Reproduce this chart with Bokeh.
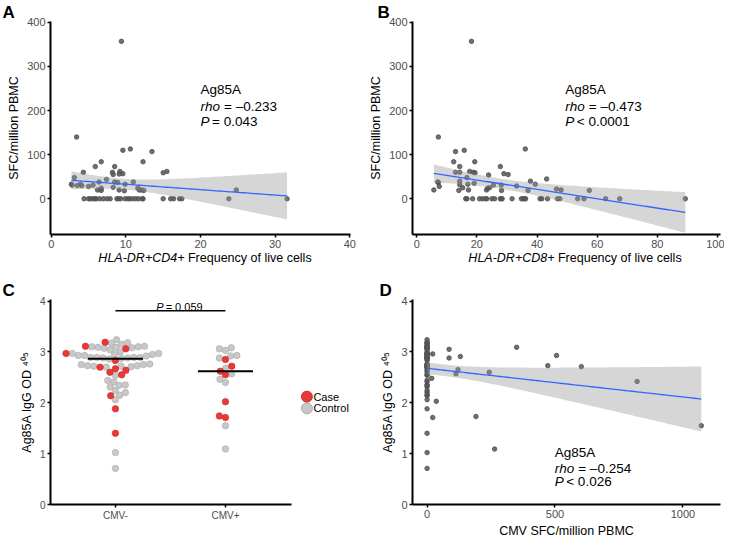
import numpy as np
from bokeh.plotting import figure
from bokeh.models import Label, FixedTicker, ColumnDataSource, Range1d, Div
from bokeh.layouts import column, row
from bokeh.embed import file_html
from bokeh.resources import INLINE

FONT = "Liberation Sans"
PT_COLOR = "#555555"
LINE_BLUE = "#3366FF"
RED = "#E8393A"
RED_EDGE = "#D02A2A"
GRAY = "#C8C8C8"
GRAY_EDGE = "#A9A9A9"

# ---------------- Panel A : HLA-DR+CD4+ vs SFC ----------------
a_freq = [9.4, 3.4, 9.6, 10.6, 13.5, 5.9, 6.7, 8.5, 12.3, 4.3, 8.2, 8.3, 9.2, 9.1, 9.6,
          15.0, 15.5, 3.1, 7.4, 8.5, 8.9, 11.0, 9.9, 6.4, 2.8, 2.7, 3.5, 3.9, 4.1, 5.0,
          5.6, 8.3, 6.2, 6.7, 6.7, 9.1, 9.8, 11.6, 11.8, 12.1, 12.4, 24.8,
          4.4, 5.0, 5.25, 5.6, 5.9, 6.0, 6.5, 7.0, 7.5, 7.9, 8.8, 9.0, 9.3, 9.9, 10.25,
          10.5, 10.9, 11.3, 11.7, 12.2, 12.3, 15.0, 16.0, 16.4, 17.2, 17.5, 23.8, 31.6]
a_sfc = [357, 140, 110, 113, 107, 73, 84, 73, 84, 60, 60, 55, 62, 56, 57,
         59, 62, 48, 44, 38, 37, 38, 33, 38, 31, 33, 30, 33, 30, 28,
         31, 26, 20, 19, 24, 20, 18, 24, 20, 20, 19, 20,
         0, 0, 0, 0, 0, 0, 0, 0, 0, 0, 0, 0, 0, 0, 0,
         0, 0, 0, 0, 0, 0, 0, 0, 0, 0, 0, 0, 0]

# ---------------- Panel B : HLA-DR+CD8+ vs SFC ----------------
b_freq = [18.2, 7.2, 12.9, 15.8, 36.1, 12.3, 19.3, 14.3, 27.8, 12.9, 14.3, 18.8, 19.4,
          17.6, 23.9, 29.0, 30.4, 43.2, 7.2, 7.5, 14.3, 16.7, 14.3, 14.0, 15.3, 17.2,
          19.1, 17.0, 23.2, 23.6, 24.2, 25.5, 28.1, 28.2, 33.2, 37.8, 37.0, 39.4, 46.5,
          48.0, 57.4, 5.7, 7.0,
          16.3, 16.7, 18.6, 20.9, 21.9, 22.8, 23.3, 25.0, 25.9, 27.8, 28.1, 28.4, 31.7,
          34.8, 35.4, 35.9, 36.2, 41.0, 41.6, 43.5, 46.8, 47.6, 53.5, 55.6, 62.8, 67.5, 89.3]
b_sfc = [357, 140, 107, 110, 113, 84, 84, 73, 73, 60, 60, 60, 59,
         62, 54, 57, 55, 45, 37, 28, 40, 48, 32, 19, 25, 20,
         35, 33, 20, 24, 25, 31, 31, 19, 29, 40, 19, 33, 22,
         20, 19, 20, 38,
         0, 0, 0, 0, 0, 0, 0, 0, 0, 0, 0, 0, 0,
         0, 0, 0, 0, 0, 0, 0, 0, 0, 0, 0, 0, 0, 0]

# ---------------- Panel C : Ag85A IgG by CMV status ----------------
categories = ["CMV-", "CMV+"]
groups = ["Case", "Control"]
cmvneg_control = [3.24, 3.18, 3.17, 3.15,
                  3.10, 3.09, 3.07, 3.04, 3.00, 2.97, 2.95, 2.93, 2.92, 2.93, 2.95, 2.97,
                  3.08, 3.09, 3.10, 3.11,
                  2.89, 2.89, 2.88, 2.86, 2.87, 2.88, 2.89, 2.89,
                  2.75, 2.73, 2.72, 2.71, 2.70, 2.72, 2.73, 2.75, 2.76,
                  2.54, 2.44, 2.41, 2.35, 2.34, 2.31, 2.24, 2.20, 2.15, 2.06, 1.02, 0.71]
cmvneg_case = [3.19, 3.11, 3.06, 2.97, 2.83, 2.70, 2.67, 2.64, 2.60, 2.55, 2.14, 1.88, 1.40]
cmvpos_control = [3.08, 3.03, 3.06, 2.92, 2.93, 2.88, 2.68, 2.57, 2.46, 2.40, 1.55, 1.09]
cmvpos_case = [2.85, 2.72, 2.62, 2.55, 2.02, 1.74, 1.71]
c_pvalue = "= 0.059"

# ---------------- Panel D : CMV SFC vs Ag85A IgG ----------------
d_sfc_pos = [22, 18, 36, 22, 86, 86, 130, 121, 113, 191, 243, 264, 350, 472, 506, 603, 821, 1072]
d_igg_pos = [2.96, 2.48, 2.03, 1.71, 3.05, 2.88, 2.91, 2.65, 2.57, 1.73, 2.60, 1.09, 3.09,
             2.73, 2.93, 2.71, 2.42, 1.55]
d_igg_zero = cmvneg_control + cmvneg_case
d_sfc = [0] * len(d_igg_zero) + d_sfc_pos
d_igg = d_igg_zero + d_igg_pos


def smooth(x, y, n=80, t=1.99):
    x = np.asarray(x, float)
    y = np.asarray(y, float)
    b, a = np.polyfit(x, y, 1)
    xs = np.linspace(x.min(), x.max(), n)
    fit = a + b * xs
    resid = y - (a + b * x)
    s = np.sqrt(np.sum(resid ** 2) / (len(x) - 2))
    sxx = np.sum((x - x.mean()) ** 2)
    se = s * np.sqrt(1.0 / len(x) + (xs - x.mean()) ** 2 / sxx)
    return xs, fit, fit - t * se, fit + t * se


def style_axes(p, tick_size="11px"):
    p.grid.visible = False
    p.outline_line_color = None
    for ax in (p.xaxis[0], p.yaxis[0]):
        ax.axis_line_width = 2
        ax.axis_line_color = "black"
        ax.major_tick_line_width = 1.5
        ax.major_tick_line_color = "black"
        ax.major_tick_out = 3
        ax.major_tick_in = 0
        ax.minor_tick_line_color = None
        ax.major_label_standoff = 2
        ax.major_label_text_font = FONT
        ax.major_label_text_font_size = tick_size
        ax.major_label_text_color = "#4d4d4d"
        ax.axis_label_text_font = FONT
        ax.axis_label_text_font_size = "12.5px"
        ax.axis_label_text_font_style = "normal"
        ax.axis_label_text_color = "black"
        ax.axis_label_standoff = 3


def make_fig(w, h, xr, yr, left, right, bottom, letter, letter_offset):
    p = figure(width=w, height=h, x_range=Range1d(*xr), y_range=Range1d(*yr),
               output_backend="svg", toolbar_location=None, title=letter,
               min_border_left=left, min_border_right=right,
               min_border_top=0, min_border_bottom=bottom)
    p.title.text_font = FONT
    p.title.text_font_size = "17px"
    p.title.text_font_style = "bold"
    p.title.text_color = "black"
    p.title.text_line_height = 0.9
    p.title.align = "left"
    p.title.offset = letter_offset
    p.title.standoff = 0
    return p


def scatter_fit(p, x, y):
    p.scatter(x, y, size=4.5, fill_color=PT_COLOR, line_color=PT_COLOR, fill_alpha=0.85, line_alpha=0.85)
    xs, fit, lo, hi = smooth(x, y)
    p.varea(x=xs, y1=lo, y2=hi, fill_color="#999999", fill_alpha=0.4)
    p.line(xs, fit, line_color=LINE_BLUE, line_width=1.3)


def stat_text(p, x, ys, rho, pstr, size="13.5px"):
    common = dict(text_font=FONT, text_font_size=size, text_baseline="middle", text_color="black")
    p.add_layout(Label(x=x, y=ys[0], text="Ag85A", **common))
    p.add_layout(Label(x=x, y=ys[1], text="rho", text_font_style="italic", **common))
    p.add_layout(Label(x=x, y=ys[1], x_offset=23.5, text=rho, **common))
    p.add_layout(Label(x=x, y=ys[2], text="P", text_font_style="italic", **common))
    p.add_layout(Label(x=x, y=ys[2], x_offset=11.5, text=pstr, **common))


def xlabel_div(ital, rest, left, frame_w, shift):
    html = ('<div style="position:relative;top:-8px;margin-left:%dpx;width:%dpx;'
            'text-align:center;white-space:nowrap;">'
            '<span style="font-style:italic">%s</span> %s</div>' % (left + shift, frame_w, ital, rest))
    return Div(text=html, width=362, height=14,
               styles={"font-family": FONT, "font-size": "12.5px", "line-height": "15px",
                       "color": "black", "overflow": "visible", "z-index": "5"})


# ---------- A ----------
pA = make_fig(362, 254, (-0.1, 40.1), (-81, 402), 50, 12, 20, "A", -48)
style_axes(pA)
scatter_fit(pA, a_freq, a_sfc)
pA.xaxis.ticker = FixedTicker(ticks=[0, 10, 20, 30, 40])
pA.yaxis.ticker = FixedTicker(ticks=[0, 100, 200, 300, 400])
pA.yaxis.axis_label = "SFC/million PBMC"
stat_text(pA, 20.0, [248, 209, 175], "= \u20130.233", "= 0.043")
divA = xlabel_div("HLA-DR+CD4+", "Frequency of live cells", 50, 300, 0)

# ---------- B ----------
pB = make_fig(362, 254, (-1.4, 101), (-81, 402), 50, 4, 20, "B", -35)
style_axes(pB)
scatter_fit(pB, b_freq, b_sfc)
pB.xaxis.ticker = FixedTicker(ticks=[0, 20, 40, 60, 80, 100])
pB.yaxis.ticker = FixedTicker(ticks=[0, 100, 200, 300, 400])
pB.yaxis.axis_label = "SFC/million PBMC"
stat_text(pB, 49.4, [248, 209, 175], "= \u20130.473", "< 0.0001")
divB = xlabel_div("HLA-DR+CD8+", "Frequency of live cells", 50, 308, -6)


# ---------- C ----------
def swarm(vals, px_x=110.0, px_y=52.0, d=6.3):
    vals = np.asarray(vals, float)
    order = np.argsort(vals, kind="stable")
    placed = []
    offs = np.zeros(len(vals))
    for i in order:
        yp = vals[i] * px_y
        cands = [0.0]
        for xo, yo in placed:
            dy = abs(yp - yo)
            if dy < d:
                dx = np.sqrt(d * d - dy * dy)
                cands += [xo + dx, xo - dx]
        cands.sort(key=lambda c: (abs(c), c))
        for c in cands:
            if all((c - xo) ** 2 + (yp - yo) ** 2 >= d * d - 1e-6 for xo, yo in placed):
                offs[i] = c
                break
        placed.append((offs[i], yp))
    return offs / px_x


pC = make_fig(362, 262, (0.41, 3.2), (0, 4.03), 50, 5, 22, "C", -48)
style_axes(pC, tick_size="10px")
pC.xaxis.bounds = (0.41, 2.6)
xs_all, ys_all, fc_all, lc_all = [], [], [], []
medians = []
for k, (ctrl, case) in enumerate([(cmvneg_control, cmvneg_case), (cmvpos_control, cmvpos_case)]):
    vals = list(ctrl) + list(case)
    is_case = [False] * len(ctrl) + [True] * len(case)
    offs = swarm(vals)
    for v, o, c in zip(vals, offs, is_case):
        xs_all.append(k + 1 + o)
        ys_all.append(v)
        fc_all.append(RED if c else GRAY)
        lc_all.append(RED_EDGE if c else GRAY_EDGE)
    medians.append(float(np.median(vals)))
srcC = ColumnDataSource(dict(x=xs_all, y=ys_all, fc=fc_all, lc=lc_all))
pC.scatter("x", "y", source=srcC, size=6.5, fill_color="fc", line_color="lc", line_width=0.6)
pos = [1, 2]
pC.segment(x0=[p - 0.25 for p in pos], x1=[p + 0.25 for p in pos], y0=medians, y1=medians,
           line_color="black", line_width=2)
pC.segment(x0=[1], x1=[2], y0=[3.81], y1=[3.81], line_color="black", line_width=1.5)
cC = dict(text_font=FONT, text_font_size="11px", text_baseline="alphabetic", text_color="black")
pC.add_layout(Label(x=1.37, y=3.88, text="P", text_font_style="italic", **cC))
pC.add_layout(Label(x=1.37, y=3.88, x_offset=9.5, text=c_pvalue, **cC))
pC.xaxis.ticker = FixedTicker(ticks=pos)
pC.xaxis.major_label_overrides = {1: categories[0], 2: categories[1]}
pC.yaxis.ticker = FixedTicker(ticks=[0, 1, 2, 3, 4])
pC.yaxis.axis_label = "Ag85A IgG OD \u2074\u2070\u2075"
# key (legend) for Case / Control
key_x = [2.74, 2.74]
key_y = [2.12, 1.89]
pC.scatter(key_x, key_y, size=11, fill_color=[RED, GRAY], line_color=[RED_EDGE, GRAY_EDGE])
for kx, ky, g in zip(key_x, key_y, groups):
    pC.add_layout(Label(x=kx, y=ky, x_offset=6.5, text=g, text_font=FONT, text_font_size="11px",
                        text_baseline="middle", text_color="black"))

# ---------- D ----------
pD = make_fig(362, 262, (-57, 1147), (0, 4.03), 50, 4, 35, "D", -33)
style_axes(pD)
scatter_fit(pD, d_sfc, d_igg)
pD.xaxis.ticker = FixedTicker(ticks=[0, 500, 1000])
pD.yaxis.ticker = FixedTicker(ticks=[0, 1, 2, 3, 4])
pD.yaxis.axis_label = "Ag85A IgG OD \u2074\u2070\u2075"
pD.xaxis.axis_label = "CMV SFC/million PBMC"
stat_text(pD, 499, [1.02, 0.70, 0.45], "= \u20130.254", "< 0.026")

layout = column(row(pA, pB), row(divA, divB), row(pC, pD))
open("out.html", "w").write(file_html(layout, INLINE))
